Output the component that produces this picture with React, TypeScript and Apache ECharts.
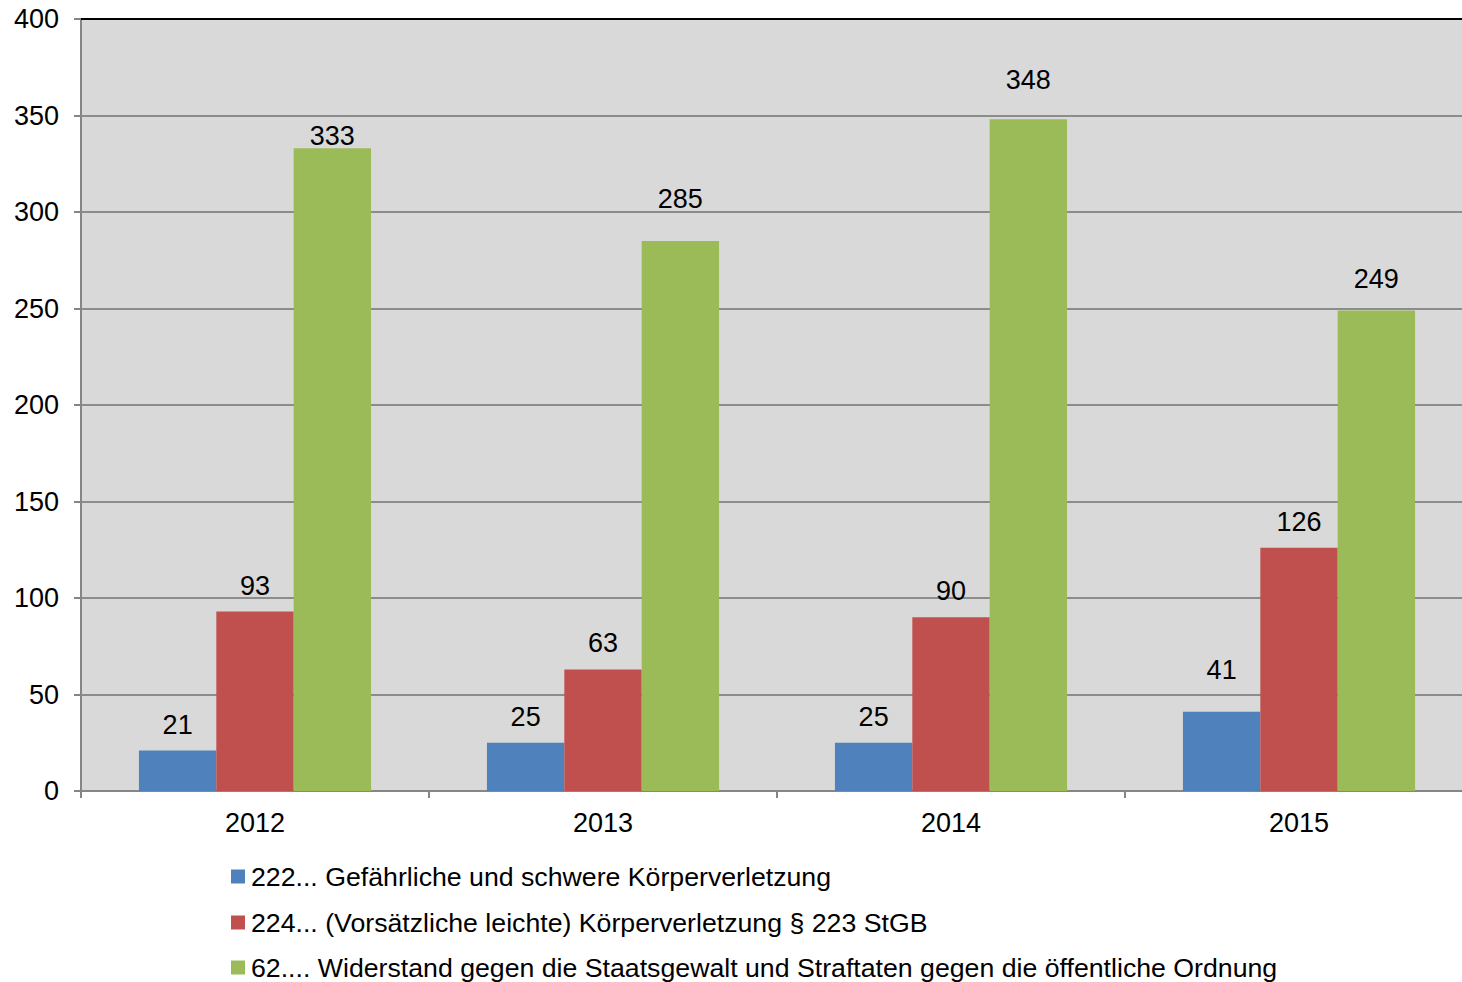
import React, { useEffect, useRef } from "react";
import * as echarts from "echarts";

const years = ["2012", "2013", "2014", "2015"];
const seriesNames = [
  "222... Gefährliche und schwere Körperverletzung",
  "224... (Vorsätzliche leichte) Körperverletzung § 223 StGB",
  "62.... Widerstand gegen die Staatsgewalt und Straftaten gegen die öffentliche Ordnung",
];
const koerperverletzungSchwer = [21, 25, 25, 41];
const koerperverletzungLeicht = [93, 63, 90, 126];
const widerstand = [333, 285, 348, 249];
const colors = ["#4f81bd", "#c0504d", "#9bbb59"];

// extra vertical nudges of individual value labels (px), [seriesIndex][categoryIndex]
const labelLift = [
  [0, 0, 0, 16],
  [0, 1, 1, 0],
  [-13, 16, 14, 6],
];

const FONT = "'Liberation Sans', Arial, sans-serif";
const FS = 27;
const CHART_W = 1473 + 20;

export default function App() {
  const ref = useRef<HTMLDivElement>(null);
  useEffect(() => {
    if (!ref.current) return;
    const chart = echarts.init(ref.current, null, { renderer: "svg" });
    const values = [koerperverletzungSchwer, koerperverletzungLeicht, widerstand];
    const legendTops = [863, 909, 954];
    chart.setOption({
      animation: false,
      textStyle: { fontFamily: FONT },
      grid: {
        left: 81,
        top: 19,
        right: CHART_W - 1473,
        bottom: 191,
        show: true,
        backgroundColor: "#d9d9d9",
        borderWidth: 0,
        containLabel: false,
      },
      legend: seriesNames.map((name, i) => ({
        orient: "vertical",
        left: 231,
        top: legendTops[i],
        padding: 0,
        itemWidth: 14,
        itemHeight: 14,
        icon: "rect",
        textStyle: { fontSize: 26.7, color: "#000", fontFamily: FONT, padding: [0, 0, 0, 1] },
        data: [name],
      })),
      xAxis: {
        type: "category",
        data: years,
        axisLine: { show: true, lineStyle: { color: "#868686", width: 2 } },
        axisTick: { show: true, length: 7, lineStyle: { color: "#868686", width: 2 } },
        axisLabel: { fontSize: FS, color: "#000", margin: 18, fontFamily: FONT },
        splitLine: { show: false },
      },
      yAxis: {
        type: "value",
        min: 0,
        max: 400,
        interval: 50,
        axisLine: { show: true, lineStyle: { color: "#868686", width: 2 } },
        axisTick: { show: true, length: 7, lineStyle: { color: "#868686", width: 2 } },
        axisLabel: { fontSize: FS, color: "#000", margin: 22, fontFamily: FONT },
        splitLine: { show: true, lineStyle: { color: "#8c8c8c", width: 2 } },
      },
      graphic: [
        {
          type: "line",
          shape: { x1: 81, y1: 19, x2: 1473, y2: 19 },
          style: { stroke: "#000", lineWidth: 2 },
          z: 100,
        },
      ],
      series: seriesNames.map((name, si) => ({
        name,
        type: "bar",
        barGap: "0%",
        barCategoryGap: "33.3%",
        itemStyle: { color: colors[si] },
        label: {
          show: true,
          position: "top",
          distance: 12,
          fontSize: FS,
          color: "#000",
          fontFamily: FONT,
        },
        data: values[si].map((v, ci) => ({
          value: v,
          label: { offset: [0, -labelLift[si][ci]] },
        })),
      })),
    });
    return () => chart.dispose();
  }, []);
  return (
    <div
      style={{
        position: "absolute",
        left: 0,
        top: 0,
        width: 1462,
        height: 982,
        overflow: "hidden",
        background: "#fff",
      }}
    >
      <div ref={ref} style={{ width: CHART_W, height: 982 }} />
    </div>
  );
}
